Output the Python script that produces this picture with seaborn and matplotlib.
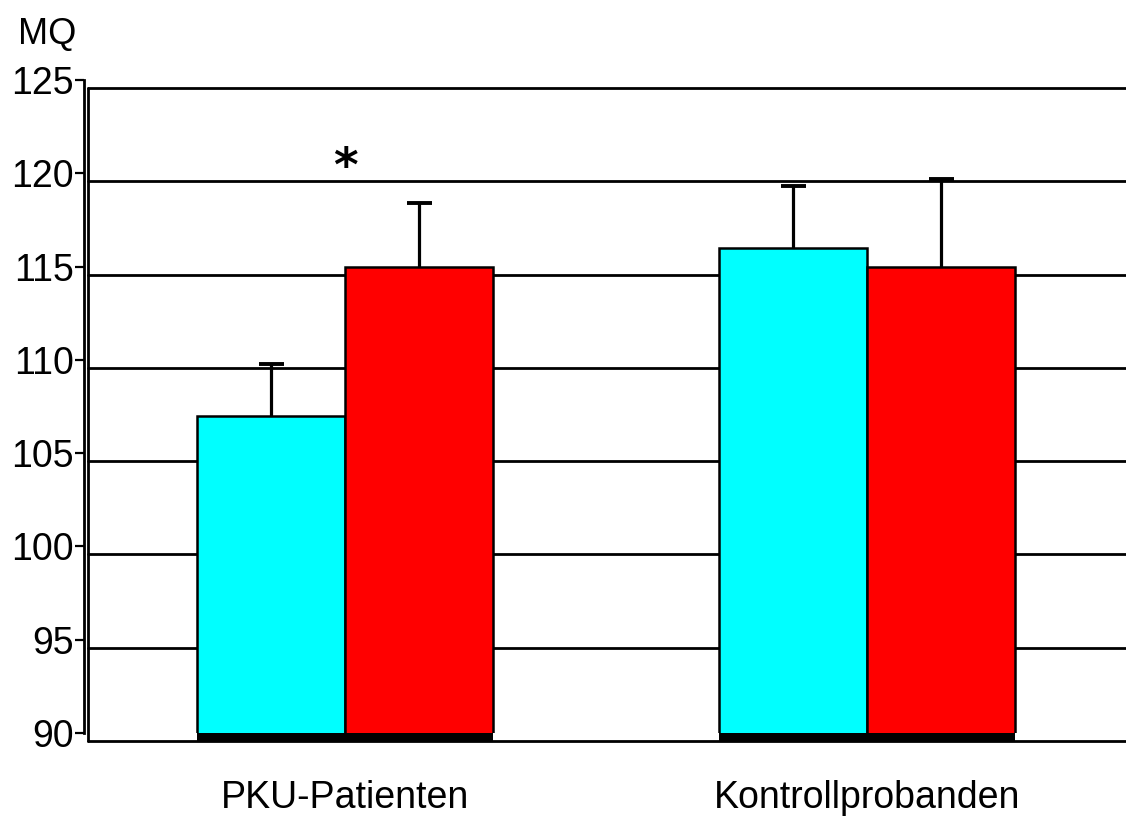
import matplotlib
matplotlib.use("Agg")
import matplotlib.pyplot as plt
import matplotlib.transforms as mtransforms
from matplotlib.patches import Rectangle
import pandas as pd
import seaborn as sns

# Mean developmental quotient (MQ) per group and measurement, with SD
groups = ["PKU-Patienten", "Kontrollprobanden"]
measurements = ["Messung 1", "Messung 2"]
mean_m1 = [107.0, 116.0]
mean_m2 = [115.0, 115.0]
sd_m1 = [2.8, 3.3]
sd_m2 = [3.4, 4.7]
y_ticks = [90, 95, 100, 105, 110, 115, 120, 125]

df = pd.DataFrame({
    "Gruppe": groups * 2,
    "Messung": [measurements[0]] * 2 + [measurements[1]] * 2,
    "MQ": mean_m1 + mean_m2,
})

sns.set_theme(style="white")
plt.rcParams["font.family"] = ["Liberation Sans", "DejaVu Sans"]
plt.rcParams["text.color"] = "black"

fig = plt.figure(figsize=(11.26, 8.16), dpi=100)
ax = fig.add_axes([84 / 1126, 1 - 733 / 816, 1 - 84 / 1126, (733 - 80) / 816])

sns.barplot(data=df, x="Gruppe", y="MQ", hue="Messung", order=groups,
            hue_order=measurements, palette=["#00FFFF", "#FF0000"],
            width=0.567, gap=0, errorbar=None, saturation=1,
            edgecolor="black", linewidth=1.8, legend=False, ax=ax, zorder=3)

ax.set_ylim(90, 125)
ax.set_xlim(-0.5, 1.496)

# back wall: gridlines and left wall edge, shifted slightly for depth
depth = mtransforms.ScaledTranslation(4 / 100, -8 / 100, fig.dpi_scale_trans)
wall = ax.get_yaxis_transform() + depth
for v in y_ticks:
    ax.plot([0, 1], [v, v], color="black", lw=2, transform=wall,
            clip_on=False, zorder=1)
ax.plot([0, 0], [90, 125], color="black", lw=2, transform=wall,
        clip_on=False, zorder=1)

# dark floor strip under the bars and upward-only SD bars with a top cap
for container, sds in zip(ax.containers, [sd_m1, sd_m2]):
    for bar, sd in zip(container, sds):
        x0, w, h = bar.get_x(), bar.get_width(), bar.get_height()
        xc = x0 + w / 2
        ax.add_patch(Rectangle((x0, 90), w, -0.48, facecolor="black",
                               edgecolor="none", clip_on=False, zorder=2))
        ax.errorbar(xc, h, yerr=[[0], [sd]], fmt="none", ecolor="black",
                    elinewidth=2.3, capsize=0, zorder=2)
        ax.plot([xc], [h + sd], marker="_", markersize=18,
                markeredgewidth=2.8, color="black", zorder=2)

ax.text(0, 120.25, "*", ha="center", va="center", fontsize=34,
        fontweight="bold", family="DejaVu Sans", color="black")

for side in ["top", "right", "bottom"]:
    ax.spines[side].set_visible(False)
ax.spines["left"].set_color("black")
ax.spines["left"].set_linewidth(2)

ax.set_yticks(y_ticks)
ax.set_yticklabels([str(t) for t in y_ticks], fontsize=27)
ax.tick_params(axis="y", left=True, length=6.5, width=1.6, color="black",
               pad=1, labelcolor="black")
ax.tick_params(axis="x", bottom=False, length=0, pad=34, labelsize=27,
               labelcolor="black")
ax.set_xlabel("")
ax.set_ylabel("")
ax.grid(False)

fig.text(18 / 1126, 1 - 44 / 816, "MQ", fontsize=26, ha="left",
         va="baseline", color="black")

fig.savefig("out.png", dpi=100, facecolor="white")
